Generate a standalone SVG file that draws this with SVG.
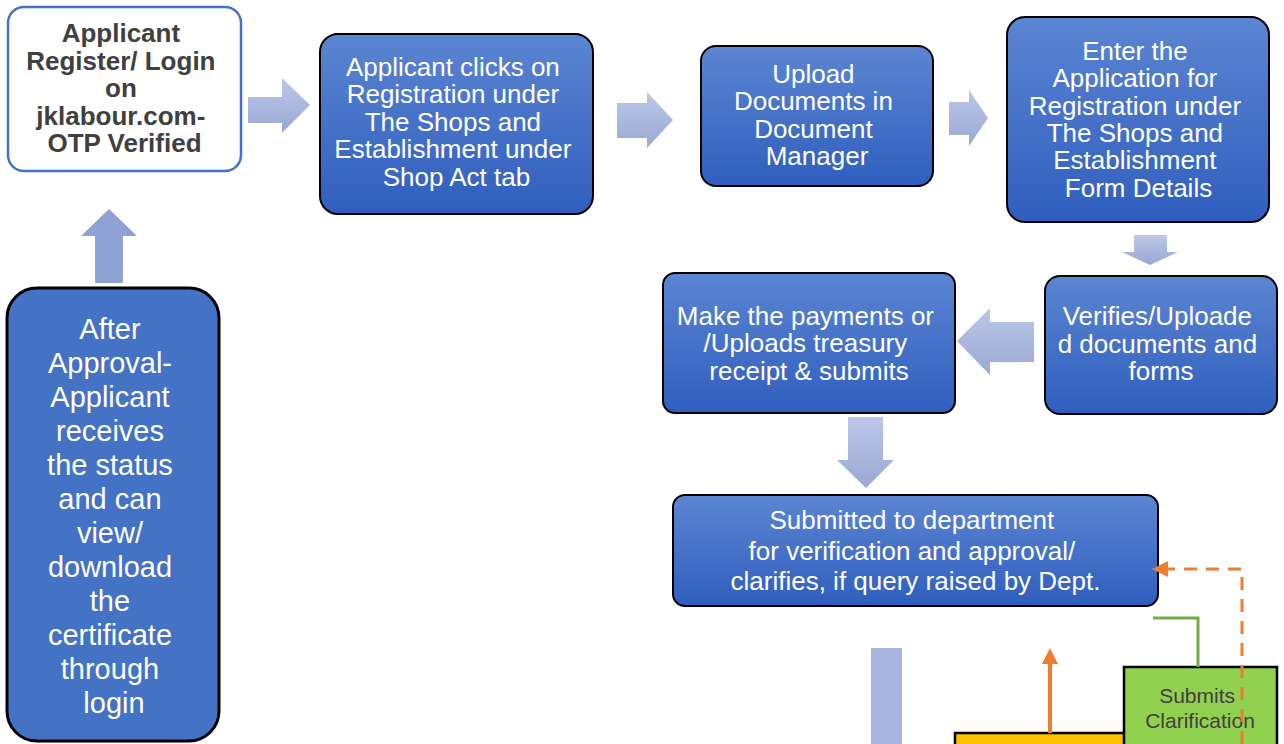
<svg xmlns="http://www.w3.org/2000/svg" width="1284" height="744" viewBox="0 0 1284 744">
  <defs>
    <linearGradient id="boxFill" x1="0" y1="0" x2="0" y2="1">
      <stop offset="0" stop-color="#5c85d2"/>
      <stop offset="1" stop-color="#2f5ebd"/>
    </linearGradient>
    <linearGradient id="blockArrow" x1="0" y1="0" x2="0" y2="1">
      <stop offset="0" stop-color="#bcc7e8"/>
      <stop offset="1" stop-color="#9aa8d4"/>
    </linearGradient>
    <marker id="orangeHead" markerUnits="userSpaceOnUse" markerWidth="16" markerHeight="18" refX="0" refY="8" orient="auto" viewBox="0 0 16 16">
      <path d="M0,0 L16,8 L0,16 Z" fill="#ed7d31"/>
    </marker>
    <style>
      .step { fill: url(#boxFill); stroke: #000; stroke-width: 2; }
      .arrow { fill: url(#blockArrow); }
      .lbl { font-family: "Liberation Sans", Arial, sans-serif; font-size: 26px; fill: #fff; text-anchor: middle; }
      .dark { fill: #404040; }
      .bold { font-weight: bold; }
    </style>
  </defs>

  <!-- start: login -->
  <g id="login">
    <rect x="8" y="7" width="233" height="164" rx="16" fill="#fff" stroke="#4472c4" stroke-width="2.5"/>
    <text class="lbl dark bold">
      <tspan x="124.5" y="42">Applicant</tspan>
      <tspan x="124.5" y="70">Register/ Login</tspan>
      <tspan x="124.5" y="97">on</tspan>
      <tspan x="124.5" y="125">jklabour.com-</tspan>
      <tspan x="124.5" y="152">OTP Verified</tspan>
    </text>
  </g>

  <g id="registration">
    <rect class="step" x="320" y="34" width="273" height="180" rx="18"/>
    <text class="lbl">
      <tspan x="456.5" y="76">Applicant clicks on</tspan>
      <tspan x="456.5" y="103">Registration under</tspan>
      <tspan x="456.5" y="131">The Shops and</tspan>
      <tspan x="456.5" y="158">Establishment under</tspan>
      <tspan x="456.5" y="186">Shop Act tab</tspan>
    </text>
  </g>

  <g id="upload">
    <rect class="step" x="701" y="46" width="232" height="140" rx="15"/>
    <text class="lbl">
      <tspan x="817" y="83">Upload</tspan>
      <tspan x="817" y="110">Documents in</tspan>
      <tspan x="817" y="138">Document</tspan>
      <tspan x="817" y="165">Manager</tspan>
    </text>
  </g>

  <g id="form-entry">
    <rect class="step" x="1007" y="17" width="262" height="205" rx="18"/>
    <text class="lbl">
      <tspan x="1138.5" y="60">Enter the</tspan>
      <tspan x="1138.5" y="87">Application for</tspan>
      <tspan x="1138.5" y="115">Registration under</tspan>
      <tspan x="1138.5" y="142">The Shops and</tspan>
      <tspan x="1138.5" y="169">Establishment</tspan>
      <tspan x="1138.5" y="197">Form Details</tspan>
    </text>
  </g>

  <g id="verify">
    <rect class="step" x="1045" y="276" width="232" height="138" rx="15"/>
    <text class="lbl">
      <tspan x="1161" y="325">Verifies/Uploade</tspan>
      <tspan x="1161" y="353">d documents and</tspan>
      <tspan x="1161" y="380">forms</tspan>
    </text>
  </g>

  <g id="payment">
    <rect class="step" x="663" y="273" width="292" height="140" rx="12"/>
    <text class="lbl">
      <tspan x="809" y="325">Make the payments or</tspan>
      <tspan x="809" y="352">/Uploads treasury</tspan>
      <tspan x="809" y="380">receipt &amp; submits</tspan>
    </text>
  </g>

  <g id="submitted">
    <rect class="step" x="673" y="495" width="485" height="111" rx="12"/>
    <text class="lbl">
      <tspan x="915.5" y="529">Submitted to department</tspan>
      <tspan x="915.5" y="560">for verification and approval/</tspan>
      <tspan x="915.5" y="590">clarifies, if query raised by Dept.</tspan>
    </text>
  </g>

  <g id="approval">
    <rect x="7" y="288" width="212" height="453" rx="30" fill="#4472c4" stroke="#000" stroke-width="3"/>
    <text class="lbl" style="font-size:29px">
      <tspan x="114" y="339">After</tspan>
      <tspan x="114" y="373">Approval-</tspan>
      <tspan x="114" y="407">Applicant</tspan>
      <tspan x="114" y="441">receives</tspan>
      <tspan x="114" y="475">the status</tspan>
      <tspan x="114" y="509">and can</tspan>
      <tspan x="114" y="543">view/</tspan>
      <tspan x="114" y="577">download</tspan>
      <tspan x="114" y="611">the</tspan>
      <tspan x="114" y="645">certificate</tspan>
      <tspan x="114" y="679">through</tspan>
      <tspan x="114" y="713">login</tspan>
    </text>
  </g>

  <g id="query-box">
    <rect x="955" y="733" width="200" height="30" fill="#ffc000" stroke="#000" stroke-width="2.5"/>
  </g>

  <g id="clarification">
    <rect x="1124" y="667" width="153" height="90" fill="#92d050" stroke="#000" stroke-width="2.5"/>
    <text class="lbl dark" style="font-size:21px">
      <tspan x="1200" y="703">Submits</tspan>
      <tspan x="1200" y="728">Clarification</tspan>
    </text>
  </g>

  <!-- connectors -->
  <g id="connectors">
    <path class="arrow" d="M248,97 H282 V78 L310,105 L282,133 V123 H248 Z"/>
    <path class="arrow" d="M617,103 H647 V92 L673,120 L647,148 V138 H617 Z"/>
    <path class="arrow" d="M949,102 H969 V90 L988,118 L969,146 V135 H949 Z"/>
    <path class="arrow" d="M1134,235 H1167 V252 H1178 L1150,265 L1122,252 H1134 Z"/>
    <path class="arrow" d="M1034,322 V362 H990 V375 L957,341 L990,308 V322 Z"/>
    <path class="arrow" d="M848,417 H883 V460 H894 L866,488 L837,460 H848 Z"/>
    <path d="M95,283 V236 H81 L109,209 L137,236 H123 V283 Z" fill="#8ea2d6"/>
    <rect x="871" y="648" width="31" height="100" fill="#a8b6df"/>
    <path d="M1050,733 V664" fill="none" stroke="#ed7d31" stroke-width="4" marker-end="url(#orangeHead)"/>
    <path d="M1153,618 H1198 V667" fill="none" stroke="#70ad47" stroke-width="3"/>
    <path d="M1242,744 V569 H1168" fill="none" stroke="#ed7d31" stroke-width="3" stroke-dasharray="13,9" marker-end="url(#orangeHead)"/>
  </g>
</svg>
